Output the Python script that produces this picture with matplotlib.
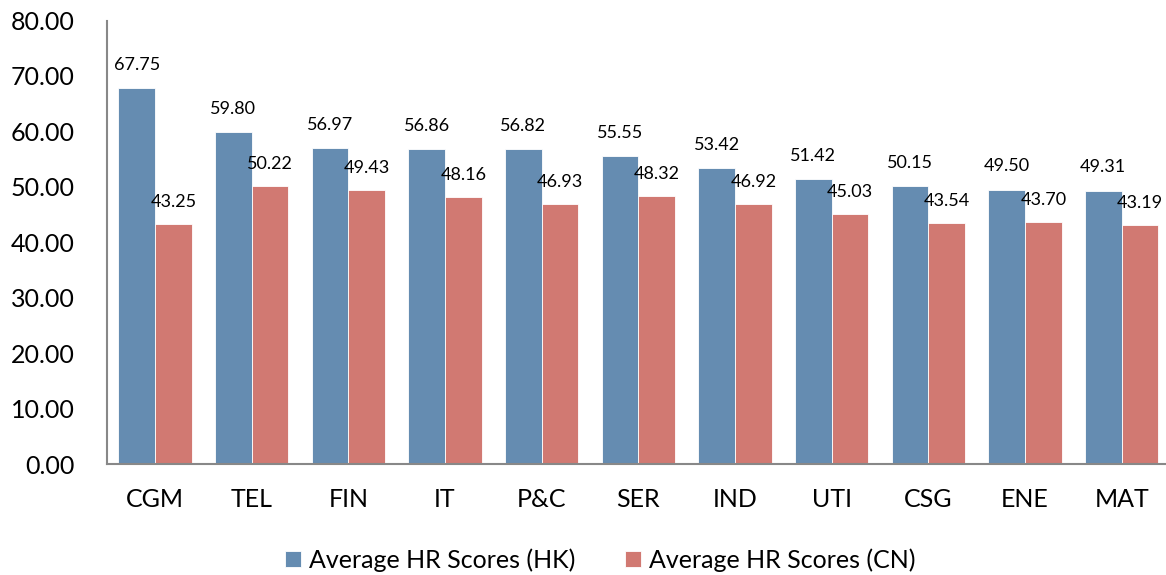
import matplotlib
matplotlib.use("Agg")
import matplotlib.pyplot as plt
import numpy as np

categories = ["CGM", "TEL", "FIN", "IT", "P&C", "SER", "IND", "UTI", "CSG", "ENE", "MAT"]
hk_scores = [67.75, 59.80, 56.97, 56.86, 56.82, 55.55, 53.42, 51.42, 50.15, 49.50, 49.31]
cn_scores = [43.25, 50.22, 49.43, 48.16, 46.93, 48.32, 46.92, 45.03, 43.54, 43.70, 43.19]
series_names = ["Average HR Scores (HK)", "Average HR Scores (CN)"]
y_ticks = [0, 10, 20, 30, 40, 50, 60, 70, 80]

plt.rcParams['font.family'] = ['Lato', 'DejaVu Sans']

fig = plt.figure(figsize=(11.66, 5.75), dpi=100)
ax = fig.add_axes([106.7/1166, 111/575, (1170-106.7)/1166, (464-20.5)/575])

x = np.arange(len(categories))
w = 0.38
blue = "#658CB1"
red = "#D17972"
b1 = ax.bar(x - w/2, hk_scores, w, color=blue, edgecolor="white", linewidth=0.6, label=series_names[0])
b2 = ax.bar(x + w/2, cn_scores, w, color=red, edgecolor="white", linewidth=0.6, label=series_names[1])

for xi, v in zip(x - w/2, hk_scores):
    ax.annotate(f"{v:.2f}", (xi, v), xytext=(0, 11), textcoords="offset points",
                ha="center", va="bottom", fontsize=13)
for xi, v in zip(x + w/2, cn_scores):
    ax.annotate(f"{v:.2f}", (xi, v), xytext=(0, 10), textcoords="offset points",
                ha="center", va="bottom", fontsize=13)

ax.set_xlim(-0.5, len(categories) - 0.5)
ax.set_ylim(0, 80)
ax.set_yticks(y_ticks)
ax.set_yticklabels([f"{t:.2f}" for t in y_ticks], fontsize=18)
ax.set_xticks(x)
ax.set_xticklabels(categories, fontsize=18)
ax.tick_params(axis="y", length=0, pad=23)
ax.tick_params(axis="x", length=0, pad=17)
for s in ["top", "right"]:
    ax.spines[s].set_visible(False)
for s in ["left", "bottom"]:
    ax.spines[s].set_color("#888888")
    ax.spines[s].set_linewidth(1.5)

fig.legend(handles=[b1, b2], labels=series_names, loc="center", bbox_to_anchor=(0.5146, 0.026),
           ncol=2, frameon=False, fontsize=18, handlelength=0.65, handleheight=0.65,
           handletextpad=0.3, columnspacing=2.0, borderpad=0)

fig.savefig("out.png", dpi=100)
